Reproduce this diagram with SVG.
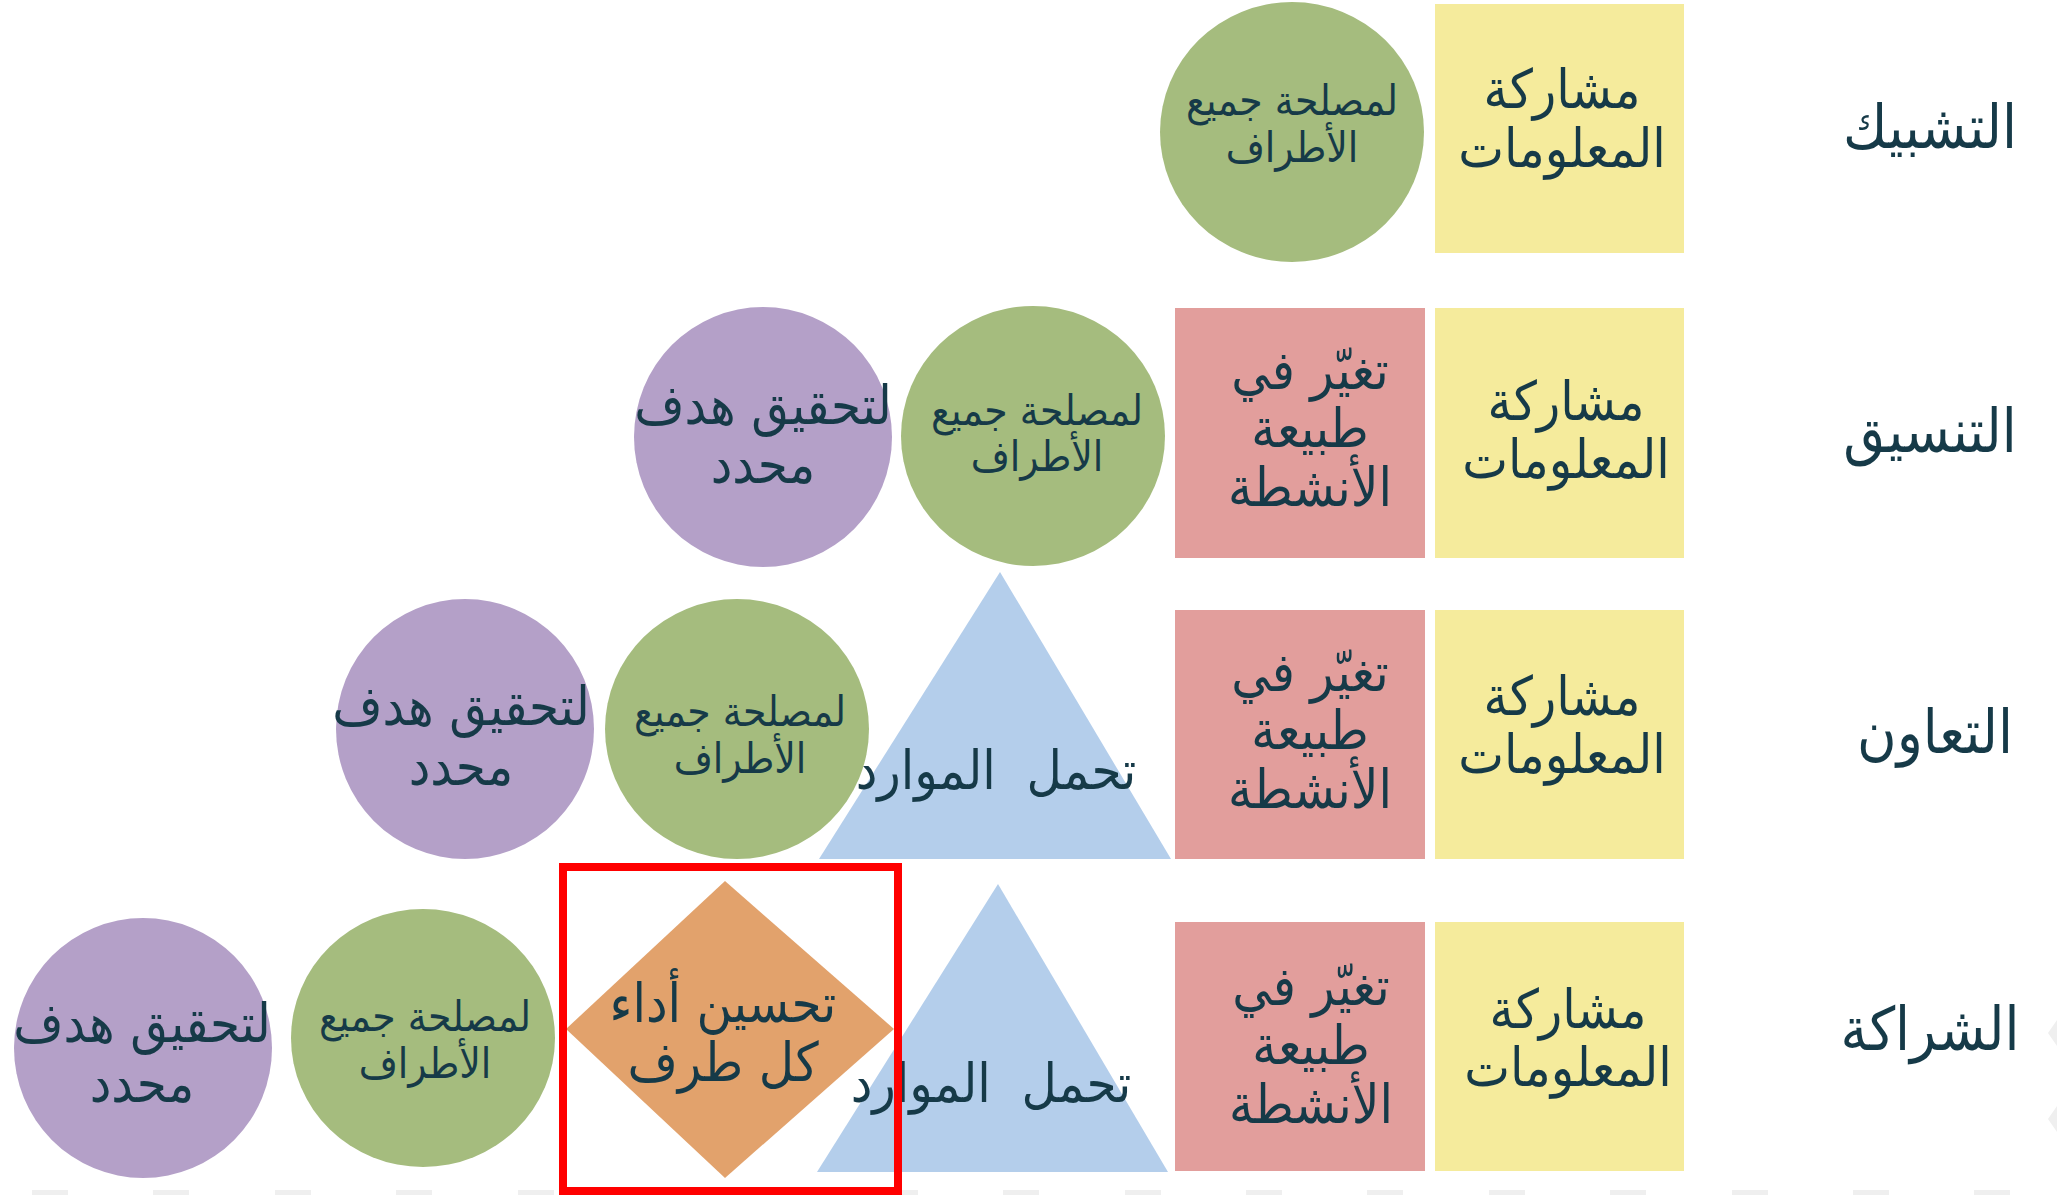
<svg xmlns="http://www.w3.org/2000/svg" width="2057" height="1195" viewBox="0 0 2057 1195">
<style>
  text { font-family: "DejaVu Sans Condensed", "DejaVu Sans", sans-serif; fill: #163a48; text-anchor: middle; direction: rtl; font-stretch: condensed; font-weight: 300; white-space: pre; }
  .lbl { font-size: 60px; font-weight: 400; }
  .big { font-size: 54px; }
  .mid { font-size: 42px; }
  .yel { fill: #f5eb9c; }
  .red { fill: #e29e9c; }
  .grn { fill: #a5bc7e; }
  .pur { fill: #b4a0c8; }
  .blu { fill: #b4ceeb; }
  .org { fill: #e2a26c; }
  .dash { fill: #efefef; }
</style>
<rect width="2057" height="1195" fill="#ffffff"/>
<g id="background-marks">
  <rect class="dash" x="32" y="1190" width="36" height="5"/>
  <rect class="dash" x="153" y="1190" width="36" height="5"/>
  <rect class="dash" x="275" y="1190" width="36" height="5"/>
  <rect class="dash" x="396" y="1190" width="36" height="5"/>
  <rect class="dash" x="518" y="1190" width="36" height="5"/>
  <rect class="dash" x="639" y="1190" width="36" height="5"/>
  <rect class="dash" x="760" y="1190" width="36" height="5"/>
  <rect class="dash" x="882" y="1190" width="36" height="5"/>
  <rect class="dash" x="1003" y="1190" width="36" height="5"/>
  <rect class="dash" x="1125" y="1190" width="36" height="5"/>
  <rect class="dash" x="1246" y="1190" width="36" height="5"/>
  <rect class="dash" x="1367" y="1190" width="36" height="5"/>
  <rect class="dash" x="1489" y="1190" width="36" height="5"/>
  <rect class="dash" x="1610" y="1190" width="36" height="5"/>
  <rect class="dash" x="1732" y="1190" width="36" height="5"/>
  <rect class="dash" x="1853" y="1190" width="36" height="5"/>
  <rect class="dash" x="1974" y="1190" width="36" height="5"/>
  <polygon class="dash" points="2057,1020 2048,1033 2057,1046"/>
  <polygon class="dash" points="2057,1106 2048,1119 2057,1132"/>
</g>

<!-- Row labels -->
<g id="label-networking"><text class="lbl" x="1930" y="148">التشبيك</text></g>
<g id="label-coordination"><text class="lbl" x="1930" y="452">التنسيق</text></g>
<g id="label-cooperation"><text class="lbl" x="1935" y="753">التعاون</text></g>
<g id="label-partnership"><text class="lbl" x="1930" y="1050">الشراكة</text></g>

<!-- Row 1 -->
<g id="r1-info">
  <rect class="yel" x="1435" y="4" width="249" height="249"/>
  <text class="big" x="1562" y="108">مشاركة</text>
  <text class="big" x="1562" y="167">المعلومات</text>
</g>
<g id="r1-interest">
  <ellipse class="grn" cx="1292" cy="132" rx="132" ry="130"/>
  <text class="mid" x="1292" y="115">لمصلحة جميع</text>
  <text class="mid" x="1292" y="162">الأطراف</text>
</g>

<!-- Row 2 -->
<g id="r2-info">
  <rect class="yel" x="1435" y="308" width="249" height="250"/>
  <text class="big" x="1566" y="420">مشاركة</text>
  <text class="big" x="1566" y="478">المعلومات</text>
</g>
<g id="r2-activities">
  <rect class="red" x="1175" y="308" width="250" height="250"/>
  <text class="big" x="1310" y="389">تغيّر في</text>
  <text class="big" x="1310" y="447">طبيعة</text>
  <text class="big" x="1310" y="506">الأنشطة</text>
</g>
<g id="r2-interest">
  <ellipse class="grn" cx="1033" cy="436" rx="132" ry="130"/>
  <text class="mid" x="1037" y="425">لمصلحة جميع</text>
  <text class="mid" x="1037" y="471">الأطراف</text>
</g>
<g id="r2-goal">
  <ellipse class="pur" cx="763" cy="437" rx="129" ry="130"/>
  <text class="big" x="763" y="424">لتحقيق هدف</text>
  <text class="big" x="763" y="483">محدد</text>
</g>

<!-- Row 3 -->
<g id="r3-info">
  <rect class="yel" x="1435" y="610" width="249" height="249"/>
  <text class="big" x="1562" y="715">مشاركة</text>
  <text class="big" x="1562" y="773">المعلومات</text>
</g>
<g id="r3-activities">
  <rect class="red" x="1175" y="610" width="250" height="249"/>
  <text class="big" x="1310" y="691">تغيّر في</text>
  <text class="big" x="1310" y="749">طبيعة</text>
  <text class="big" x="1310" y="808">الأنشطة</text>
</g>
<g id="r3-resources">
  <polygon class="blu" points="1000,572 1171,859 819,859"/>
  <text class="big" x="996" y="789">تحمل  الموارد</text>
</g>
<g id="r3-interest">
  <ellipse class="grn" cx="737" cy="729" rx="132" ry="130"/>
  <text class="mid" x="740" y="726">لمصلحة جميع</text>
  <text class="mid" x="740" y="773">الأطراف</text>
</g>
<g id="r3-goal">
  <ellipse class="pur" cx="465" cy="729" rx="129" ry="130"/>
  <text class="big" x="461" y="725">لتحقيق هدف</text>
  <text class="big" x="461" y="785">محدد</text>
</g>

<!-- Row 4 -->
<g id="r4-info">
  <rect class="yel" x="1435" y="922" width="249" height="249"/>
  <text class="big" x="1568" y="1028">مشاركة</text>
  <text class="big" x="1568" y="1086">المعلومات</text>
</g>
<g id="r4-activities">
  <rect class="red" x="1175" y="922" width="250" height="249"/>
  <text class="big" x="1311" y="1005">تغيّر في</text>
  <text class="big" x="1311" y="1064">طبيعة</text>
  <text class="big" x="1311" y="1123">الأنشطة</text>
</g>
<g id="r4-resources">
  <polygon class="blu" points="998,884 1168,1172 817,1172"/>
  <text class="big" x="991" y="1102">تحمل  الموارد</text>
</g>
<g id="r4-performance">
  <polygon class="org" points="725,881 894,1029 725,1178 566,1029"/>
  <text class="big" x="723" y="1022">تحسين أداء</text>
  <text class="big" x="723" y="1081">كل طرف</text>
</g>
<g id="r4-interest">
  <ellipse class="grn" cx="423" cy="1038" rx="132" ry="129"/>
  <text class="mid" x="425" y="1031">لمصلحة جميع</text>
  <text class="mid" x="425" y="1078">الأطراف</text>
</g>
<g id="r4-goal">
  <ellipse class="pur" cx="143" cy="1048" rx="129" ry="130"/>
  <text class="big" x="142" y="1042">لتحقيق هدف</text>
  <text class="big" x="142" y="1102">محدد</text>
</g>

<g id="connectors"></g>

<g id="highlight">
  <rect x="563" y="867" width="335" height="324" fill="none" stroke="#ff0000" stroke-width="8"/>
</g>
</svg>
